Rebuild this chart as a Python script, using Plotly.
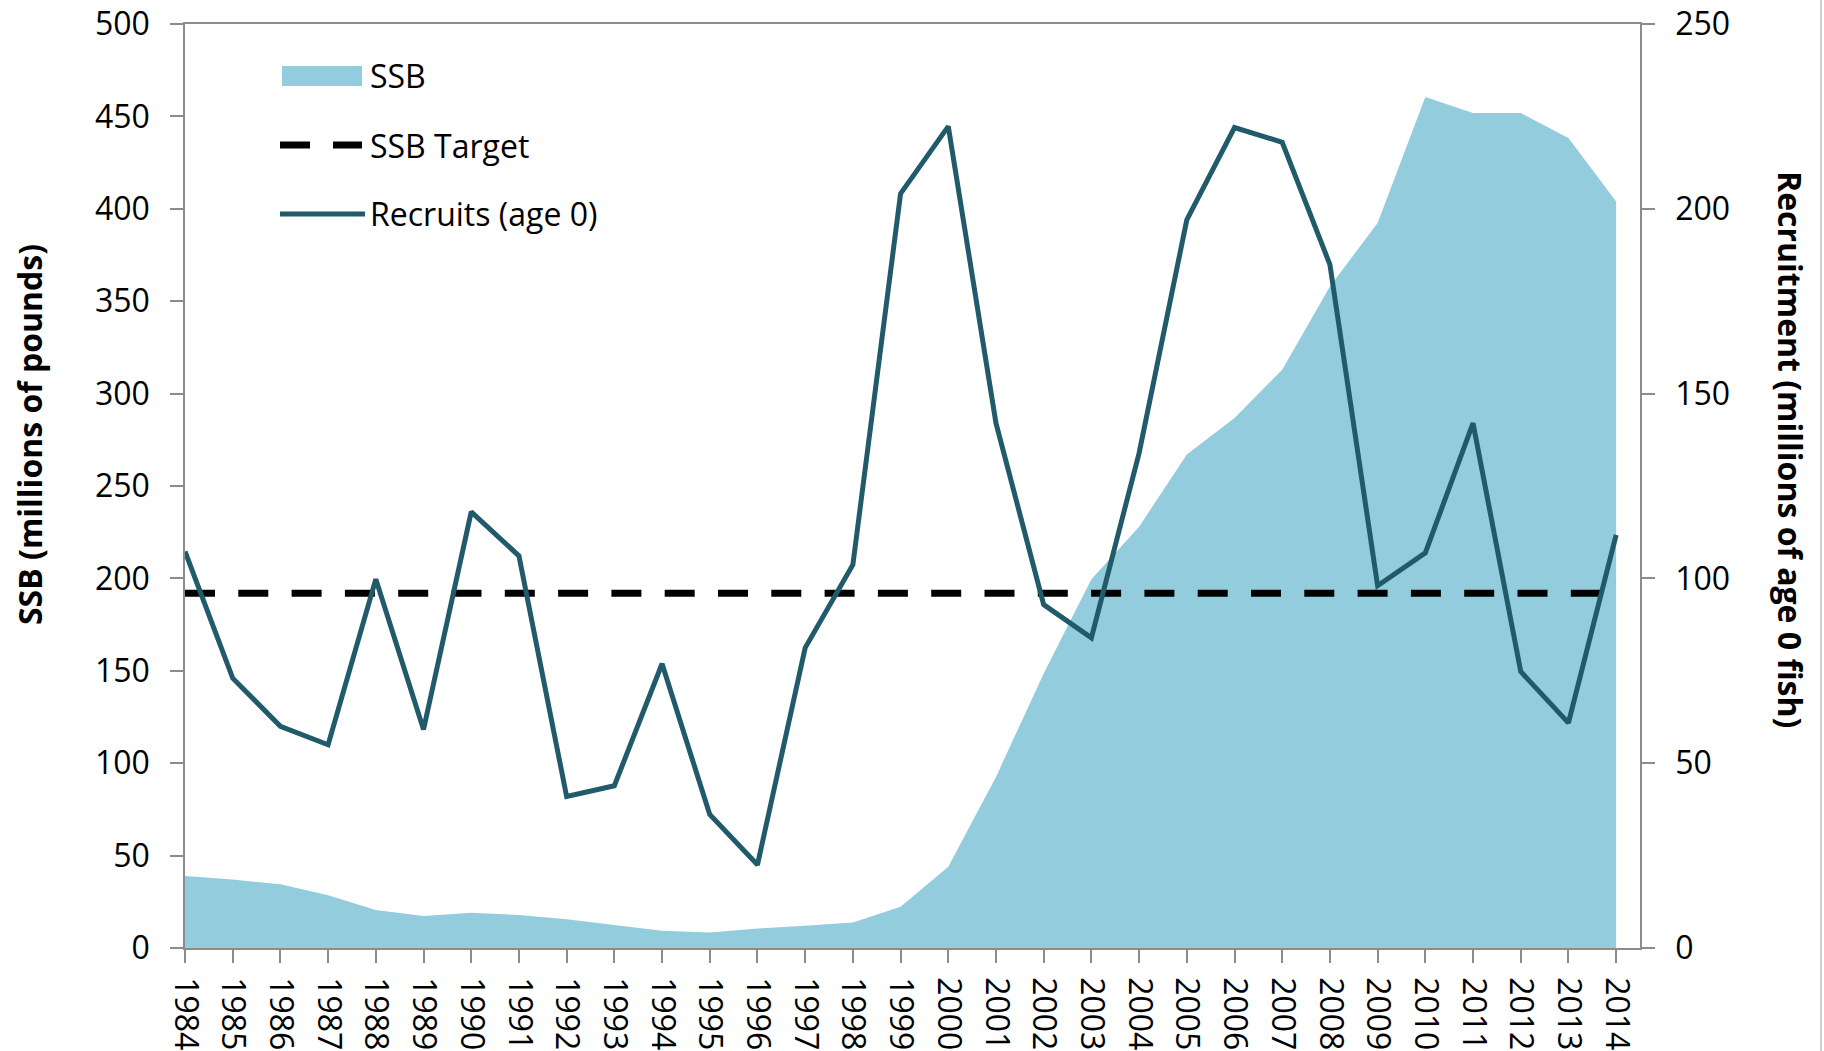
import plotly.graph_objects as go

# ---------------- data ----------------
years = list(range(1984, 2015))
ssb = [39, 37, 34.5, 28.6, 20.5, 17.3, 19.1, 17.9, 15.5, 12.5, 9.3, 8.4, 10.5, 12, 13.8,
       22.3, 44, 92.6, 148.6, 199.6, 228, 267, 286.8, 312.9, 358, 392.3, 460.5, 451.8,
       451.8, 438.3, 404]
recruits = [107.3, 73.0, 60.0, 55.0, 99.8, 59.1, 118.0, 106.1, 41.0, 43.9, 76.9, 36.1,
            22.5, 81.2, 103.7, 204.1, 222.3, 142.0, 92.9, 83.9, 133.9, 197.0, 222.0, 218.0,
            184.9, 98.0, 106.9, 142.0, 74.8, 60.9, 111.8]
ssb_target = 192
series_names = ["SSB", "SSB Target", "Recruits (age 0)"]
left_title = "SSB (millions of pounds)"
right_title = "Recruitment (millions of age 0 fish)"

# ---------------- styles ----------------
FONT = "Open Sans"
FILL = "#93CDDD"
TEAL = "#215B6B"
AX = "#8C8C8C"
TS = 32

fig = go.Figure()
fig.add_trace(go.Scatter(x=years, y=ssb, name=series_names[0], mode="lines",
                         fill="tozeroy", fillcolor=FILL, line=dict(width=0, color=FILL),
                         showlegend=False))
fig.add_trace(go.Scatter(x=years, y=[ssb_target] * len(years), name=series_names[1],
                         mode="lines", line=dict(color="black", width=7, dash="30px,23.3px"),
                         showlegend=False))
fig.add_trace(go.Scatter(x=years, y=recruits, name=series_names[2], mode="lines",
                         yaxis="y2", line=dict(color=TEAL, width=5), showlegend=False))

axis_common = dict(showgrid=False, zeroline=False, showline=True, linecolor=AX, linewidth=1.5,
                   ticks="outside", ticklen=13, tickcolor=AX, tickwidth=1.5, automargin=False,
                   ticklabeloverflow="allow",
                   tickfont=dict(family=FONT, size=TS, color="black"))

fig.update_layout(
    width=1824, height=1051,
    margin=dict(l=185, r=184, t=24, b=103),
    paper_bgcolor="white", plot_bgcolor="white",
    font=dict(family=FONT, color="black"),
    xaxis=dict(range=[1984, 2014.5], tickmode="linear", tick0=1984, dtick=1,
               tickangle=90, mirror=True, ticklabelstandoff=8, **axis_common),
    yaxis=dict(range=[0, 500], tickmode="linear", tick0=0, dtick=50,
               ticklabelstandoff=14, **axis_common),
    yaxis2=dict(range=[0, 250], tickmode="linear", tick0=0, dtick=50, overlaying="y",
                side="right", ticklabelstandoff=14, **axis_common),
    showlegend=False,
)

# paper-coordinate helpers (page pixels -> plot-area fractions)
def px(x):
    return (x - 185) / 1455

def py(y):
    return (948 - y) / 924

# axis titles
fig.add_annotation(text=f"<b>{left_title}</b>", xref="paper", yref="paper",
                   x=px(30), y=py(435), textangle=-90, borderpad=0,
                   showarrow=False, xanchor="center", yanchor="middle",
                   font=dict(family=FONT, size=TS, color="black"))
fig.add_annotation(text=f"<b>{right_title}</b>", xref="paper", yref="paper",
                   x=px(1791), y=py(449), textangle=90, borderpad=0,
                   showarrow=False, xanchor="center", yanchor="middle",
                   font=dict(family=FONT, size=TS, color="black"))

# legend (drawn manually to match the wide symbols)
fig.add_shape(type="rect", xref="paper", yref="paper", x0=px(282), x1=px(362),
              y0=py(86), y1=py(66), fillcolor=FILL, line=dict(width=0))
fig.add_shape(type="line", xref="paper", yref="paper", x0=px(280), x1=px(362),
              y0=py(145), y1=py(145), line=dict(color="black", width=7, dash="30px,23px"))
fig.add_shape(type="line", xref="paper", yref="paper", x0=px(280), x1=px(365),
              y0=py(214), y1=py(214), line=dict(color=TEAL, width=5))
for name, yy in zip(series_names, [76, 145, 214]):
    fig.add_annotation(text=name, xref="paper", yref="paper", x=px(368), y=py(yy),
                       xanchor="left", yanchor="middle", showarrow=False,
                       font=dict(family=FONT, size=TS, color="black"))

# chart-area border on the right edge
fig.add_shape(type="line", xref="paper", yref="paper", x0=px(1821), x1=px(1821),
              y0=py(1051), y1=py(0), line=dict(color="#BFBFBF", width=1.5))

fig.write_html("out.html", config={"displayModeBar": False},
               post_script="document.body.style.margin='0';document.body.style.overflow='hidden';")
